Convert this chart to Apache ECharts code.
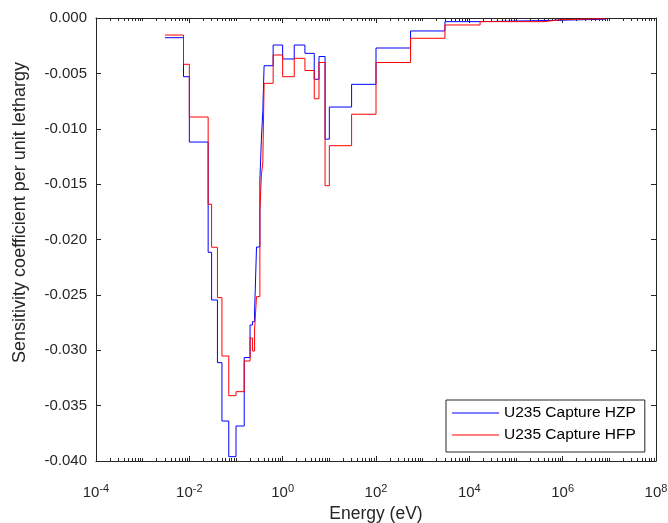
<!DOCTYPE html>
<html>
<head>
<meta charset="utf-8">
<script src="https://cdn.jsdelivr.net/npm/echarts@6/dist/echarts.min.js"></script>
<style>
html,body{margin:0;padding:0;background:#fff;}
#chart{width:668px;height:523px;}
</style>
</head>
<body>
<div id="chart"></div>
<script>
// Energy group boundaries (eV), shared by both series
const energyBounds = [3e-3, 7.5e-3, 0.01, 0.0253, 0.03, 0.04, 0.05, 0.07, 0.1, 0.15, 0.2, 0.225, 0.25, 0.275, 0.325, 0.35, 0.375, 0.4, 0.625, 1.0, 1.77, 3.0, 4.75, 6.0, 8.1, 10, 30, 100, 550, 3000, 17000, 4e5, 9e5, 8.19e6];
// Sensitivity per unit lethargy per group
const hzpValues = [-0.00178, -0.00530, -0.01120, -0.02116, -0.02546, -0.03112, -0.03639, -0.03961, -0.03684, -0.03066, -0.02772, -0.02742, -0.02664, -0.02068, -0.01463, -0.01095, -0.00846, -0.00431, -0.00244, -0.00370, -0.00244, -0.00319, -0.00553, -0.00348, -0.01094, -0.00804, -0.00599, -0.00271, -0.00117, -0.00033, -0.00023, -0.00020, -0.00011];
const hfpValues = [-0.00154, -0.00418, -0.00894, -0.01682, -0.02070, -0.02525, -0.03052, -0.03410, -0.03374, -0.03097, -0.02889, -0.03007, -0.02817, -0.02516, -0.01749, -0.01418, -0.01309, -0.00590, -0.00334, -0.00530, -0.00364, -0.00474, -0.00729, -0.00402, -0.01514, -0.01153, -0.00869, -0.00402, -0.00183, -0.00063, -0.00033, -0.00015, -0.00006];
const seriesNames = ['U235 Capture HZP', 'U235 Capture HFP'];
const xMajorTicks = [1e-4, 1e-2, 1, 1e2, 1e4, 1e6, 1e8];

function stepData(vals) {
  const d = vals.map((v, i) => [energyBounds[i], v]);
  d.push([energyBounds[energyBounds.length - 1], vals[vals.length - 1]]);
  return d;
}
const xMinorTicks = [];
for (let e = -4; e < 8; e++) {
  for (let k = 1; k <= 9; k++) {
    if (k === 1 && e % 2 === 0) continue;
    xMinorTicks.push(k * Math.pow(10, e));
  }
}
const axisColor = '#262626';
const fontFam = '"Liberation Sans", Arial, Helvetica, sans-serif';
function expLabel(v) {
  const e = Math.round(Math.log10(v));
  return '10{sup|' + e + '}';
}
function xAx(extra) {
  return Object.assign({
    type: 'log', logBase: 10, min: 1e-4, max: 1e8,
    splitLine: {show: false}
  }, extra);
}
const chart = echarts.init(document.getElementById('chart'), null, {renderer: 'canvas'});
chart.setOption({
  animation: false,
  backgroundColor: '#fff',
  grid: {left: 96, right: 12, top: 18, bottom: 62, containLabel: false, outerBoundsMode: 'none'},
  legend: {
    orient: 'vertical', left: 446, top: 400,
    data: seriesNames,
    icon: 'rect',
    itemWidth: 47, itemHeight: 1, itemGap: 6,
    padding: [5, 9, 9, 6],
    borderColor: axisColor, borderWidth: 1, backgroundColor: '#fff',
    textStyle: {fontFamily: fontFam, fontSize: 15.5, color: '#000'}
  },
  xAxis: [
    xAx({
      position: 'bottom',
      name: 'Energy (eV)', nameLocation: 'middle', nameGap: 38,
      nameTextStyle: {fontFamily: fontFam, fontSize: 17.5, color: axisColor},
      axisLine: {show: true, onZero: false, lineStyle: {color: axisColor, width: 1}},
      axisTick: {show: true, inside: true, length: 5, customValues: xMajorTicks, lineStyle: {color: axisColor}},
      axisLabel: {
        show: true, margin: 22, customValues: xMajorTicks,
        formatter: expLabel,
        fontFamily: fontFam, fontSize: 15, color: axisColor,
        rich: {sup: {fontFamily: fontFam, fontSize: 11, color: axisColor, verticalAlign: 'bottom', padding: [0, 0, 9, 0]}}
      }
    }),
    xAx({
      position: 'bottom',
      axisLine: {show: false, onZero: false},
      axisTick: {show: true, inside: true, length: 3, customValues: xMinorTicks, lineStyle: {color: axisColor}},
      axisLabel: {show: false}
    }),
    xAx({
      position: 'top',
      axisLine: {show: true, onZero: false, lineStyle: {color: axisColor, width: 1}},
      axisTick: {show: true, inside: true, length: 5, customValues: xMajorTicks, lineStyle: {color: axisColor}},
      axisLabel: {show: false}
    }),
    xAx({
      position: 'top',
      axisLine: {show: false, onZero: false},
      axisTick: {show: true, inside: true, length: 3, customValues: xMinorTicks, lineStyle: {color: axisColor}},
      axisLabel: {show: false}
    })
  ],
  yAxis: [
    {
      type: 'value', min: -0.04, max: 0, interval: 0.005, position: 'left',
      name: 'Sensitivity coefficient per unit lethargy', nameLocation: 'middle', nameGap: 67,
      nameTextStyle: {fontFamily: fontFam, fontSize: 18, color: axisColor, padding: [0, 0, 0, 54]},
      axisLine: {show: true, onZero: false, lineStyle: {color: axisColor, width: 1}},
      axisTick: {show: true, inside: true, length: 5, lineStyle: {color: axisColor}},
      axisLabel: {
        margin: 9, fontFamily: fontFam, fontSize: 15, color: axisColor,
        formatter: v => v.toFixed(3)
      },
      splitLine: {show: false}
    },
    {
      type: 'value', min: -0.04, max: 0, interval: 0.005, position: 'right',
      axisLine: {show: true, onZero: false, lineStyle: {color: axisColor, width: 1}},
      axisTick: {show: true, inside: true, length: 5, lineStyle: {color: axisColor}},
      axisLabel: {show: false},
      splitLine: {show: false}
    }
  ],
  series: [
    {
      name: seriesNames[0], type: 'line', step: 'end', data: stepData(hzpValues),
      symbol: 'none', lineStyle: {color: '#0000ff', width: 1}, itemStyle: {color: '#0000ff'},
      xAxisIndex: 0, yAxisIndex: 0, z: 2
    },
    {
      name: seriesNames[1], type: 'line', step: 'end', data: stepData(hfpValues),
      symbol: 'none', lineStyle: {color: '#ff0000', width: 1}, itemStyle: {color: '#ff0000'},
      xAxisIndex: 0, yAxisIndex: 0, z: 3
    }
  ]
});
</script>
</body>
</html>
